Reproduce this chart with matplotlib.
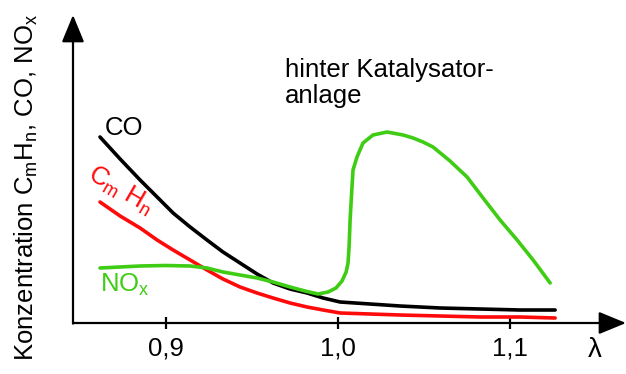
import matplotlib
matplotlib.use("Agg")
import matplotlib.pyplot as plt

plt.rcParams['font.family'] = ['Liberation Sans', 'DejaVu Sans']
plt.rcParams['mathtext.default'] = 'regular'

# lambda (air ratio) and concentration (arbitrary units)
co_lambda = [0.8616, 0.8733, 0.8849, 0.8948, 0.9041, 0.9140, 0.9238, 0.9331, 0.9430, 0.9529, 0.9622,
             0.9721, 0.9820, 0.9913, 1.0012, 1.0186, 1.0360, 1.0593, 1.0826, 1.1058, 1.1262]
co_conc = [186, 164, 143, 126, 110, 96, 83, 71, 60, 49, 40,
           34, 30, 25, 21, 19, 17, 15, 14, 13, 13]

hc_lambda = co_lambda
hc_conc = [121, 107, 95, 83, 73, 63, 53, 44, 36, 30, 25,
           20, 16, 13, 10, 9, 8, 7, 6, 6, 5]

nox_lambda = [0.8616, 0.8733, 0.8849, 0.8994, 0.9140, 0.9238, 0.9331, 0.9430, 0.9529, 0.9622,
              0.9721, 0.9808, 0.9884, 0.9942, 0.9988, 1.0023, 1.0047, 1.0058, 1.0064, 1.0070,
              1.0081, 1.0087, 1.0110, 1.0145, 1.0203, 1.0285, 1.0378, 1.0436, 1.0494, 1.0552,
              1.0651, 1.0750, 1.0843, 1.0942, 1.1041, 1.1134, 1.1233]
nox_conc = [55, 56, 57, 57.5, 57, 55, 51, 48, 45, 41,
            36, 32, 29, 31, 35, 42, 51, 60, 76, 103,
            136, 153, 166, 180, 188, 191, 188, 185, 181, 176,
            162, 146, 125, 103, 83, 63, 40]

xticks = [0.9, 1.0, 1.1]
xtick_labels = ['0,9', '1,0', '1,1']

fig = plt.figure(figsize=(6.26, 3.74), dpi=100)
ax = fig.add_axes([73 / 626, 51 / 374, 553 / 626, 308 / 374])
ax.set_xlim(0.8459, 1.1674)
ax.set_ylim(0, 308)

red = '#ff0a0a'
green = '#3fcc14'
ax.plot(co_lambda, co_conc, color='black', lw=2.6, solid_capstyle='round', solid_joinstyle='round')
ax.plot(hc_lambda, hc_conc, color=red, lw=2.6, solid_capstyle='round', solid_joinstyle='round')
ax.plot(nox_lambda, nox_conc, color=green, lw=2.6, solid_capstyle='round', solid_joinstyle='round')

# axes drawn as arrows
for s in ax.spines.values():
    s.set_visible(False)
arrow = dict(arrowstyle='-|>,head_length=0.8,head_width=0.33', mutation_scale=21, lw=1.6,
             color='black', shrinkA=0, shrinkB=0)
ax.annotate('', xy=(1.0, 0), xytext=(0, 0), xycoords='axes fraction', arrowprops=arrow)
ax.annotate('', xy=(0, 1.0), xytext=(0, -0.002), xycoords='axes fraction', arrowprops=arrow)

ax.set_xticks(xticks)
ax.set_xticklabels(xtick_labels, fontsize=18.5)
ax.tick_params(axis='x', direction='inout', length=8, width=1.6, pad=6)
ax.set_yticks([])

fig.text(595 / 626, 1 - 350 / 374, 'λ', fontsize=20, ha='center', va='center')
fig.text(26 / 626, 1 - 187 / 374, r'Konzentration C$_m$H$_n$, CO, NO$_x$',
         rotation=90, fontsize=18.5, ha='center', va='center')

ax.text(0.9692, 240, 'hinter Katalysator-\nanlage', fontsize=18.5, ha='left', va='center',
        linespacing=1.1)
ax.text(0.8645, 195, 'CO', fontsize=18.5, ha='left', va='center')
ax.text(0.8558, 150, r'C$_m$ H$_n$', fontsize=18.5, color=red, ha='left', va='center',
        rotation=-30, rotation_mode='anchor')
ax.text(0.8616, 38, r'NO$_x$', fontsize=18.5, color=green, ha='left', va='center')

fig.savefig('out.png', dpi=100)
